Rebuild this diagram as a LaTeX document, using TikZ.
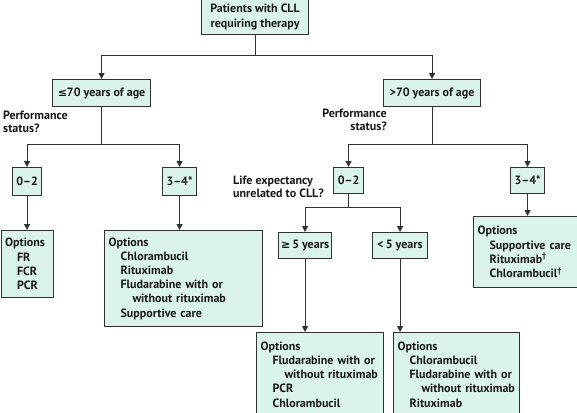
\documentclass[tikz,border=0pt]{standalone}
\usepackage{fontspec}
\setmainfont{PT Sans}
\newfontfamily\symf{DejaVu Sans}
\usetikzlibrary{arrows.meta}
\definecolor{boxfill}{RGB}{219,244,234}
\definecolor{boxline}{RGB}{50,50,50}
\definecolor{ink}{RGB}{24,24,24}
\tikzset{
  box/.style={draw=boxline, line width=1.1pt, fill=boxfill, text=ink, inner sep=0pt,
    anchor=north west, font=\bfseries\fontsize{12}{14.5}\selectfont, align=center},
  optbox/.style={draw=boxline, line width=1.1pt, fill=boxfill, text=ink, inner xsep=4pt, inner ysep=0pt,
    anchor=north west, font=\bfseries\fontsize{12}{14.2}\selectfont, align=left},
  lbl/.style={text=ink, inner sep=0pt, font=\bfseries\fontsize{12}{13}\selectfont},
  conn/.style={draw=boxline, line width=1pt},
  arr/.style={conn, -{Triangle[length=6pt,width=6pt]}}
}
\newcommand{\ind}{\hspace*{12pt}}
\newcommand{\indd}{\hspace*{24pt}}
\begin{document}
\begin{tikzpicture}[x=1pt,y=-1pt]
\useasboundingbox (0,0) rectangle (577,412);
\clip (0,0) rectangle (577,412);
% boxes
\node[box, minimum width=107pt, minimum height=35pt] (top) at (201,-1) {Patients with CLL\\requiring therapy};
\node[box, minimum width=98pt, minimum height=27pt] (le70) at (52,79) {{\symf\fontsize{11}{12}\selectfont ≤}70 years of age};
\node[box, minimum width=97pt, minimum height=27pt] (gt70) at (383,79) {>70 years of age};
\node[box, minimum width=29pt, minimum height=28pt] (L02) at (12,167) {0--2};
\node[box, minimum width=34pt, minimum height=28pt] (L34) at (162,167) {3--4*};
\node[optbox, text width=44.5pt, minimum height=67pt] (LopA) at (0.5,230) {Options\\\ind FR\\\ind FCR\\\ind PCR};
\node[optbox, text width=150pt, minimum height=96pt] (LopB) at (104,230) {Options\\\ind Chlorambucil\\\ind Rituximab\\\ind Fludarabine with or\\\indd without rituximab\\\ind Supportive care};
\node[box, minimum width=30pt, minimum height=26pt] (R02) at (333,167) {0--2};
\node[box, minimum width=34pt, minimum height=26pt] (R34) at (510,167) {3--4*};
\node[box, minimum width=53pt, minimum height=26pt] (G5) at (278,232) {{\symf\fontsize{11}{12}\selectfont ≥}\,5 years};
\node[box, minimum width=55pt, minimum height=26pt] (S5) at (372,232) {<\,5 years};
\node[optbox, text width=102pt, minimum height=71pt] (ROp) at (473,216) {Options\\\ind Supportive care\\\ind Rituximab\textsuperscript{†}\\\ind Chlorambucil\textsuperscript{†}};
\node[optbox, text width=119pt, minimum height=84pt] (B1) at (256,332) {Options\\\ind Fludarabine with or\\\indd without rituximab\\\ind PCR\\\ind Chlorambucil};
\node[optbox, text width=118pt, minimum height=84pt] (B2) at (393,332) {Options\\\ind Chlorambucil\\\ind Fludarabine with or\\\indd without rituximab\\\ind Rituximab};
% labels
\node[lbl, anchor=north west, align=left] (perfL) at (3,111) {Performance\\status?};
\node[lbl, anchor=north east, align=right] (perfR) at (387,109) {Performance\\status?};
\node[lbl, anchor=north west, align=left] (life) at (233,176) {Life expectancy\\unrelated to CLL?};
% junctions
\coordinate (j0) at (top.south |- 0,55);
\coordinate (j1) at (le70.south |- 0,144);
\coordinate (j2) at (gt70.south |- 0,144);
\coordinate (j3) at (R02.south |- 0,207);
% connectors
\draw[conn] (top.south) -- (j0);
\draw[arr] (j0) -| (le70.north);
\draw[arr] (j0) -| (gt70.north);
\draw[conn] (le70.south) -- (j1);
\draw[arr] (j1) -| (L02.north);
\draw[arr] (j1) -| (L34.north);
\draw[arr] (L02.south) -- (L02.south |- LopA.north);
\draw[arr] (L34.south) -- (L34.south |- LopB.north);
\draw[conn] (gt70.south) -- (j2);
\draw[arr] (j2) -| (R02.north);
\draw[arr] (j2) -| (R34.north);
\draw[arr] (R34.south) -- (R34.south |- ROp.north);
\draw[conn] (R02.south) -- (j3);
\draw[arr] (j3) -| (G5.north);
\draw[arr] (j3) -| (S5.north);
\draw[arr] (G5.south) -- (G5.south |- B1.north);
\draw[arr] (S5.south) -- (S5.south |- B2.north);
\end{tikzpicture}
\end{document}
